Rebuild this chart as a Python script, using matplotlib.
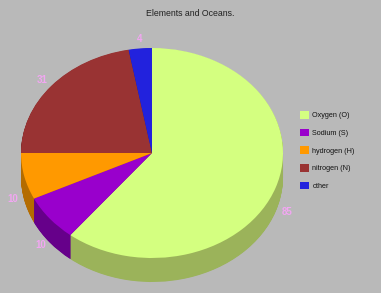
import numpy as np
import matplotlib
matplotlib.use("Agg")
import matplotlib.pyplot as plt

plt.rcParams["font.family"] = ["Liberation Sans", "DejaVu Sans"]

# ── data ──────────────────────────────────────────────────────────────────
labels = ["Oxygen (O)", "Sodium (S)", "hydrogen (H)", "nitrogen (N)", "other"]
values = [85, 10, 10, 31, 4]

top_colors = ["#d4ff80", "#9900cc", "#ff9900", "#993333", "#2222dd"]
side_colors = ["#9bb35a", "#66008a", "#b46c00", "#6b2424", "#181899"]

# ── geometry (pixels of the 381x293 canvas) ───────────────────────────────
W, H = 381, 293
CX, CY = 152, 153          # pie centre
RX, RY = 131, 105          # ellipse radii of the top face
DEPTH = 24                 # thickness of the 3d rim

fig = plt.figure(figsize=(W / 100, H / 100), dpi=100)
fig.patch.set_facecolor("#b9b9b9")
ax = fig.add_axes([0, 0, 1, 1])
ax.set_facecolor("#b9b9b9")

# rim: stack of darker pies shifted downwards
for k in np.arange(DEPTH, 0, -0.5):
    ax.pie(values, colors=side_colors, startangle=90, counterclock=False,
           center=(0, -k / RY), radius=1.0,
           wedgeprops=dict(linewidth=0, antialiased=True))

# top face
wedges, _ = ax.pie(values, colors=top_colors, startangle=90, counterclock=False,
                   center=(0, 0), radius=1.0,
                   wedgeprops=dict(linewidth=0, antialiased=True))

ax.set_aspect("auto")
ax.set_xlim(-CX / RX, (W - CX) / RX)
ax.set_ylim((CY - H) / RY, CY / RY)
ax.axis("off")

# value labels around the pie
total = float(sum(values))
start = 90.0
for v in values:
    sweep = 360.0 * v / total
    mid = np.deg2rad(start - sweep / 2)
    start -= sweep
    lx = 1.09 * np.cos(mid)
    ly = 1.09 * np.sin(mid)
    if ly < 0:
        ly -= 0.2
    ax.text(lx, ly, f"{v}", ha="center", va="center",
            fontsize=7, fontweight="bold", color="#f2a6f2")

# legend
leg = ax.legend(wedges, labels, loc="upper left",
                bbox_to_anchor=(300 / W, 1 - 111 / H),
                frameon=False, fontsize=5.2, handlelength=1.25,
                handleheight=1.25, handletextpad=0.45, labelspacing=1.3,
                borderpad=0, borderaxespad=0)
for t in leg.get_texts():
    t.set_color("#111111")

fig.text(0.5, 1 - 13 / H, "Elements and Oceans.", ha="center", va="center",
         fontsize=6.3, color="#222222")

fig.savefig("out.png", dpi=100, facecolor=fig.get_facecolor())
